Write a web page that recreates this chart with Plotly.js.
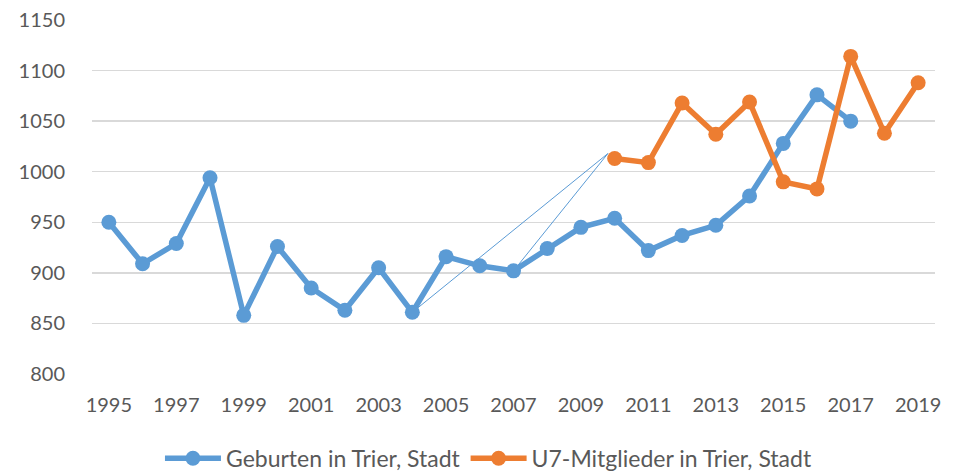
<!DOCTYPE html>
<html>
<head>
<meta charset="utf-8">
<script src="https://cdn.plot.ly/plotly-3.0.1.min.js"></script>
<style>html,body{margin:0;padding:0;background:#fff;}#chart{width:969px;height:471px;}</style>
</head>
<body>
<div id="chart"></div>
<script>
const birthYears = [1995,1996,1997,1998,1999,2000,2001,2002,2003,2004,2005,2006,2007,2008,2009,2010,2011,2012,2013,2014,2015,2016,2017];
const births = [950,909,929,994,858,926,885,863,905,861,916,907,902,924,945,954,922,937,947,976,1028,1076,1050];
const u7Years = [2010,2011,2012,2013,2014,2015,2016,2017,2018,2019];
const u7Members = [1013,1009,1068,1037,1069,990,983,1114,1038,1088];
const artifactX = [2004, 2009.8, 2007];
const artifactY = [861, 1018, 902];
const tickYears = [1995,1997,1999,2001,2003,2005,2007,2009,2011,2013,2015,2017,2019];
const tickLabels = tickYears.map(String);
const seriesNames = ["Geburten in Trier, Stadt", "U7-Mitglieder in Trier, Stadt"];

const blue = "#5B9BD5", orange = "#ED7D31";
const data = [
  {x: artifactX, y: artifactY, type: "scatter", mode: "lines", line: {color: blue, width: 1}, showlegend: false, hoverinfo: "skip"},
  {x: birthYears, y: births, name: seriesNames[0], type: "scatter", mode: "lines+markers",
   line: {color: blue, width: 5.5}, marker: {color: blue, size: 15}},
  {x: u7Years, y: u7Members, name: seriesNames[1], type: "scatter", mode: "lines+markers",
   line: {color: orange, width: 5.5}, marker: {color: orange, size: 15}}
];
const tickFont = {family: "Lato, 'Open Sans', sans-serif", size: 20, color: "#595959"};
const layout = {
  width: 969, height: 471,
  margin: {l: 92, r: 34, t: 20, b: 97, autoexpand: false},
  paper_bgcolor: "#fff", plot_bgcolor: "#fff",
  showlegend: true,
  legend: {orientation: "h", x: 0.4703, xanchor: "center", y: -0.238, yanchor: "middle",
           font: {family: "Lato, 'Open Sans', sans-serif", size: 23, color: "#595959"},
           itemwidth: 56, tracegroupgap: 0},
  xaxis: {type: "linear", range: [1994.5, 2019.5], tickvals: tickYears, ticktext: tickLabels, tickangle: 0,
          showgrid: false, zeroline: false, showline: false, ticks: "", tickfont: tickFont, ticklabelstandoff: 17},
  yaxis: {range: [800, 1150], dtick: 50, tick0: 800, showgrid: true, gridcolor: "#D9D9D9", gridwidth: 1.3,
          zeroline: false, showline: false, ticks: "", tickfont: tickFont, ticklabelstandoff: 26},
  hovermode: false
};
Plotly.newPlot("chart", data, layout, {displayModeBar: false, staticPlot: true});
</script>
</body>
</html>
